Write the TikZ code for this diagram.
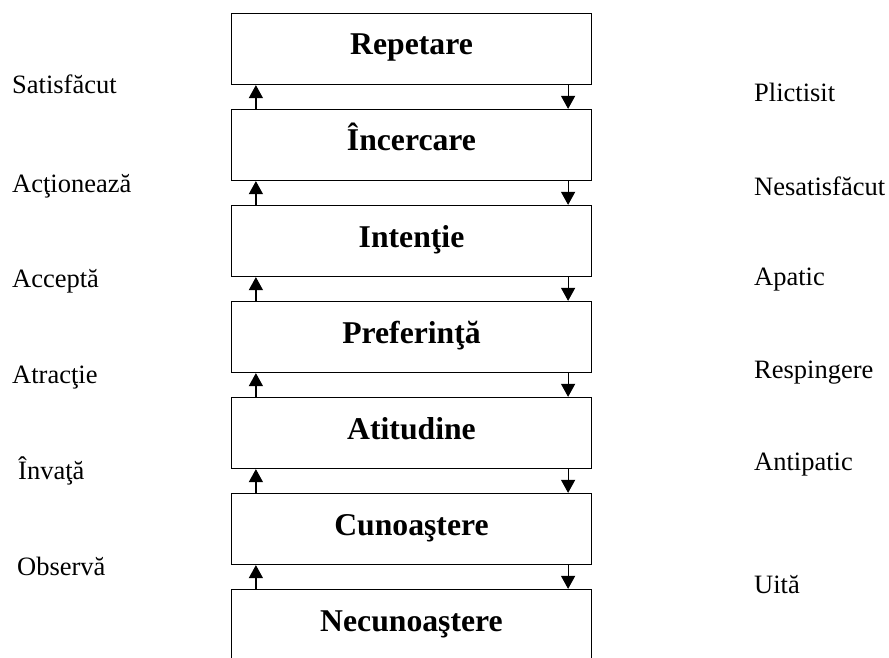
\documentclass[tikz,border=0pt]{standalone}
\usepackage{fontspec}
\setmainfont{Liberation Serif}
\usetikzlibrary{arrows.meta}
\begin{document}
\begin{tikzpicture}[x=1pt,y=-1pt,
  stage/.style={draw,line width=1.2pt,minimum width=360pt,minimum height=71pt,inner sep=0pt,
    text height=20pt,text depth=8pt,font=\fontsize{31.7}{36}\selectfont\bfseries},
  lab/.style={anchor=base west,inner sep=0pt,font=\fontsize{26.5}{30}\selectfont},
  arr/.style={line width=1.2pt,-{Triangle[width=14pt,length=13pt]}}]
\useasboundingbox (0,0) rectangle (889,658);
\clip (0,0) rectangle (889,658);
\node[stage] (b1) at (411.5,49) {Repetare};
\node[stage] (b2) at (411.5,145) {Încercare};
\node[stage] (b3) at (411.5,241) {Intenţie};
\node[stage] (b4) at (411.5,337) {Preferinţă};
\node[stage] (b5) at (411.5,433) {Atitudine};
\node[stage] (b6) at (411.5,529) {Cunoaştere};
\node[stage] (b7) at (411.5,625) {Necunoaştere};
\foreach \u/\l in {b1/b2,b2/b3,b3/b4,b4/b5,b5/b6,b6/b7}{
  \draw[arr] ([xshift=25pt]\l.north west) -- ([xshift=25pt]\u.south west);
  \draw[arr] ([xshift=-24pt]\u.south east) -- ([xshift=-24pt]\l.north east);
}
\node[lab] (l1) at (12,94) {Satisfăcut};
\node[lab] (l2) at (12,192) {Acţionează};
\node[lab] (l3) at (12,287) {Acceptă};
\node[lab] (l4) at (12,383) {Atracţie};
\node[lab] (l5) at (18,479) {Învaţă};
\node[lab] (l6) at (17,575) {Observă};
\node[lab] (r1) at (754,102) {Plictisit};
\node[lab] (r2) at (754,195) {Nesatisfăcut};
\node[lab] (r3) at (754,285) {Apatic};
\node[lab] (r4) at (754,378) {Respingere};
\node[lab] (r5) at (754,470) {Antipatic};
\node[lab] (r6) at (754,593) {Uită};
\end{tikzpicture}
\end{document}
